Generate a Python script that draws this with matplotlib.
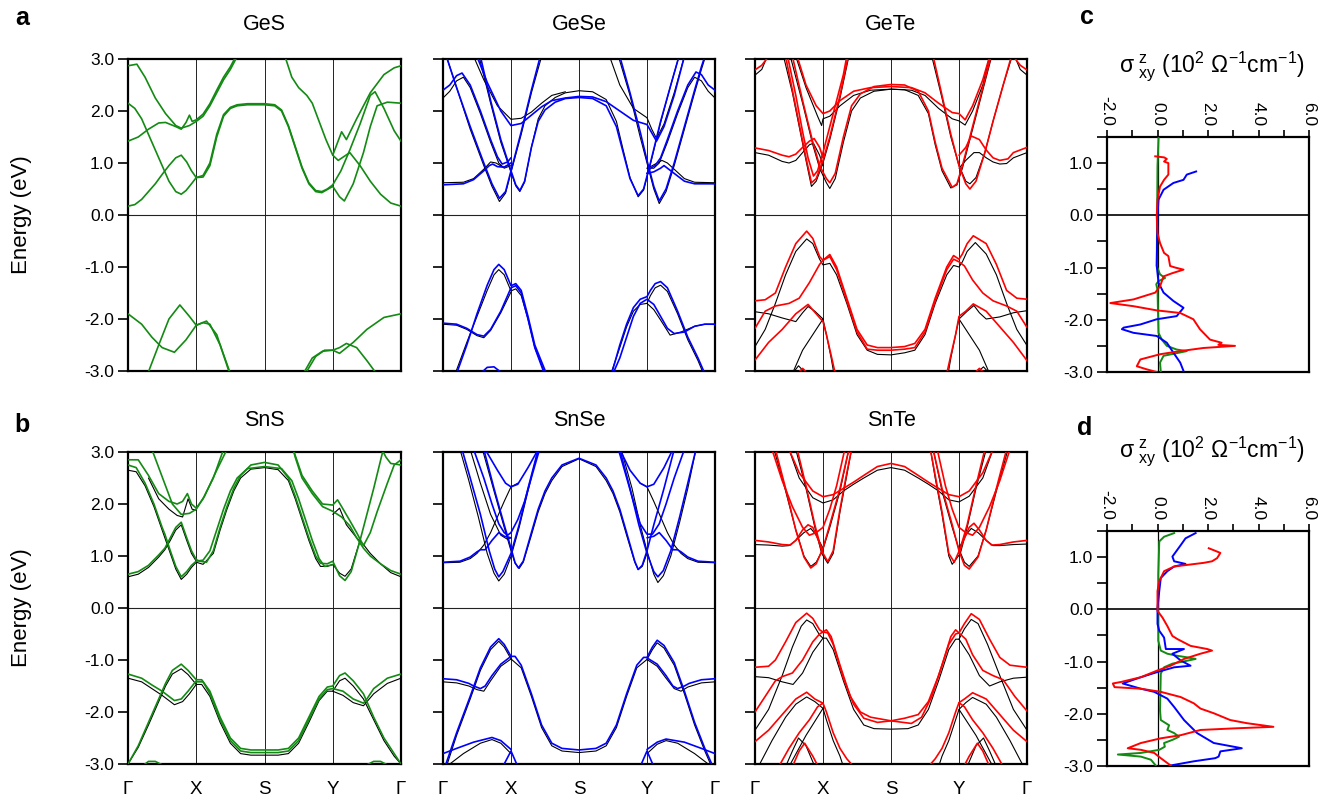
import matplotlib
matplotlib.use("Agg")
import matplotlib.pyplot as plt
from matplotlib.ticker import MultipleLocator

plt.rcParams['font.family'] = ['Liberation Sans', 'DejaVu Sans']
plt.rcParams['mathtext.default'] = 'regular'

# ---------------- k-path -----------------
KPOS = [0, 1, 2, 3, 4]
KLABELS = ['Γ', 'X', 'S', 'Y', 'Γ']
ETICKS = [-3.0, -2.0, -1.0, 0.0, 1.0, 2.0, 3.0]

GREEN = '#138a13'
BLUE = '#0000ff'
RED = '#ff0000'

# ---------------- GeS (green) ----------------
GES_SOC = [
    [(0,0.17),(0.1,0.2),(0.2,0.3),(0.3,0.45),(0.4,0.6),(0.5,0.78),(0.6,0.95),(0.7,1.1),(0.78,1.15),(0.86,1.02),(0.93,0.85),(1.0,0.72),(1.1,0.73),(1.2,0.95),(1.3,1.5),(1.4,1.9),(1.5,2.05),(1.6,2.1),(1.75,2.12),(2.0,2.12),(2.15,2.1),(2.25,2.0),(2.35,1.7),(2.45,1.3),(2.55,0.9),(2.65,0.6),(2.75,0.45),(2.84,0.43),(3.0,0.55),(3.1,0.35),(3.17,0.27),(3.3,0.6),(3.45,1.2),(3.55,1.7),(3.65,2.1),(3.8,2.17),(4.0,2.15)],
    [(0,2.15),(0.1,2.05),(0.2,1.85),(0.3,1.55),(0.4,1.25),(0.5,0.95),(0.6,0.65),(0.7,0.45),(0.78,0.40),(0.85,0.47),(0.93,0.6),(1.0,0.72),(1.1,0.76),(1.2,1.0),(1.3,1.55),(1.4,1.93),(1.5,2.07),(1.6,2.12),(1.75,2.14),(2.0,2.14),(2.15,2.12),(2.25,2.02),(2.35,1.72),(2.45,1.32),(2.55,0.92),(2.65,0.62),(2.75,0.47),(2.84,0.45),(2.92,0.5),(3.0,0.58),(3.12,0.85),(3.25,1.25),(3.4,1.75),(3.55,2.3),(3.62,2.37),(3.75,2.05),(3.9,1.62),(4.0,1.42)],
    [(0,2.87),(0.13,2.9),(0.25,2.65),(0.4,2.25),(0.55,1.95),(0.7,1.72),(0.78,1.67),(0.9,1.72),(1.0,1.8),(1.1,1.9),(1.2,2.1),(1.3,2.35),(1.4,2.6),(1.5,2.8),(1.6,3.05)],
    [(0,1.42),(0.15,1.5),(0.3,1.65),(0.45,1.77),(0.55,1.78),(0.7,1.7),(0.78,1.65),(0.85,1.78),(0.9,1.92),(0.94,1.8),(1.0,1.83),(1.1,1.94),(1.2,2.14),(1.3,2.4),(1.4,2.65),(1.5,2.85),(1.58,3.05)],
    [(2.3,3.05),(2.4,2.65),(2.5,2.45),(2.62,2.3),(2.7,2.15),(2.8,1.8),(2.9,1.45),(3.0,1.15),(3.08,1.05),(3.25,1.2),(3.4,0.95),(3.55,0.65),(3.7,0.4),(3.85,0.23),(4.0,0.17)],
    [(3.0,1.15),(3.13,1.6),(3.2,1.45),(3.35,1.85),(3.55,2.35),(3.75,2.7),(3.9,2.83),(4.0,2.87)],
    [(0,-1.9),(0.2,-2.1),(0.35,-2.35),(0.5,-2.55),(0.68,-2.64),(0.85,-2.4),(1.0,-2.12),(1.15,-2.04),(1.3,-2.3),(1.49,-3.05)],
    [(0.29,-3.05),(0.45,-2.5),(0.6,-2.0),(0.76,-1.73),(0.9,-1.95),(1.0,-2.12),(1.1,-2.07),(1.2,-2.1),(1.35,-2.5),(1.5,-3.05)],
    [(2.57,-3.05),(2.7,-2.75),(2.85,-2.62),(3.0,-2.6),(3.1,-2.55),(3.2,-2.47),(3.35,-2.55),(3.5,-2.8),(3.64,-3.05)],
    [(2.6,-3.05),(2.75,-2.72),(2.88,-2.6),(3.0,-2.6),(3.1,-2.66),(3.3,-2.45),(3.5,-2.2),(3.75,-1.97),(4.0,-1.9)],
]
GES_NOSOC = []

# ---------------- GeSe ----------------
GESE_SOC = [
    [(0.05,3.05),(0.2,2.45),(0.4,1.7),(0.6,1.0),(0.72,0.6),(0.83,0.32),(0.92,0.45),(1.0,0.85),(1.15,1.6),(1.3,2.4),(1.43,3.05)],
    [(0.55,3.05),(0.7,2.2),(0.85,1.45),(1.0,0.85),(1.07,0.58),(1.13,0.47),(1.2,0.65),(1.3,1.3),(1.4,1.8),(1.5,2.02),(1.65,2.17),(1.8,2.24),(2.0,2.26),(2.2,2.24),(2.4,2.1),(2.55,1.7),(2.65,1.2),(2.75,0.7),(2.87,0.37),(2.95,0.5),(3.05,1.0),(3.2,1.8),(3.35,2.5),(3.47,3.05)],
    [(0,0.58),(0.3,0.6),(0.45,0.68),(0.6,0.85),(0.68,0.95),(0.73,0.98),(0.8,0.93),(0.9,0.92),(1.0,1.0)],
    [(0,2.4),(0.1,2.5),(0.2,2.68),(0.28,2.73),(0.4,2.5),(0.55,2.0),(0.7,1.45),(0.8,1.12),(0.87,0.98),(0.95,1.02),(1.0,1.1)],
    [(0.5,3.05),(0.65,2.55),(0.85,2.0),(1.0,1.72),(1.15,1.76),(1.3,1.92),(1.45,2.08),(1.6,2.2),(1.8,2.25),(2.0,2.28),(2.2,2.27),(2.4,2.18),(2.6,2.0),(2.8,1.82),(3.0,1.74),(3.07,1.58),(3.14,1.42),(3.25,1.7),(3.4,2.3),(3.55,3.05)],
    [(2.6,3.05),(2.75,2.35),(2.9,1.6),(3.0,1.05),(3.1,0.55),(3.18,0.27),(3.28,0.5),(3.4,1.0),(3.55,1.7),(3.7,2.4),(3.8,2.85),(3.85,3.05)],
    [(4.0,0.6),(3.7,0.6),(3.55,0.65),(3.4,0.8),(3.3,0.9),(3.25,0.95),(3.2,0.9),(3.1,0.83),(3.0,0.8)],
    [(4.0,2.4),(3.9,2.5),(3.8,2.7),(3.72,2.75),(3.6,2.5),(3.45,2.0),(3.3,1.45),(3.2,1.1),(3.12,0.95),(3.05,0.9),(3.0,0.8)],
    [(0.2,-3.05),(0.35,-2.5),(0.5,-1.9),(0.65,-1.35),(0.75,-1.05),(0.82,-0.95),(0.9,-1.05),(1.0,-1.36),(1.07,-1.32),(1.15,-1.45),(1.25,-1.95),(1.35,-2.5),(1.52,-3.05)],
    [(0,-2.08),(0.2,-2.1),(0.35,-2.18),(0.5,-2.3),(0.6,-2.33),(0.7,-2.2),(0.85,-1.85),(1.0,-1.4),(1.07,-1.36),(1.15,-1.5),(1.25,-2.0),(1.35,-2.55),(1.49,-3.05)],
    [(0.55,-3.05),(0.65,-2.93),(0.75,-2.92),(0.88,-3.05)],
    [(2.48,-3.05),(2.6,-2.5),(2.7,-2.1),(2.8,-1.78),(2.9,-1.62),(3.0,-1.57),(3.05,-1.45),(3.12,-1.32),(3.2,-1.28),(3.3,-1.4),(3.45,-1.85),(3.6,-2.35),(3.75,-2.75),(3.85,-3.05)],
    [(2.5,-3.05),(2.6,-2.75),(2.7,-2.35),(2.8,-1.95),(2.9,-1.7),(3.0,-1.62),(3.1,-1.72),(3.2,-1.95),(3.3,-2.18),(3.4,-2.28),(3.55,-2.25),(3.7,-2.14),(3.85,-2.1),(4.0,-2.1)],
]
GESE_NOSOC = [
    [(0.05,3.05),(0.2,2.45),(0.4,1.65),(0.6,0.95),(0.72,0.55),(0.83,0.26),(0.92,0.42),(1.0,0.82),(1.15,1.55),(1.3,2.35),(1.45,3.05)],
    [(0.53,3.05),(0.7,2.15),(0.85,1.4),(1.0,0.82),(1.07,0.56),(1.13,0.45),(1.2,0.63),(1.3,1.3),(1.4,1.85),(1.5,2.1),(1.65,2.26),(1.8,2.35),(2.0,2.39),(2.2,2.37),(2.4,2.22),(2.55,1.8),(2.65,1.25),(2.75,0.72),(2.87,0.35),(2.95,0.48),(3.05,0.98),(3.2,1.78),(3.35,2.5),(3.47,3.05)],
    [(0,0.62),(0.3,0.63),(0.45,0.7),(0.6,0.88),(0.7,1.02),(0.78,1.0),(0.88,0.92),(0.95,0.95),(1.0,1.0)],
    [(0,2.25),(0.1,2.38),(0.2,2.58),(0.3,2.65),(0.4,2.45),(0.55,1.95),(0.7,1.4),(0.82,1.0),(0.9,0.9),(1.0,0.95)],
    [(0.45,3.05),(0.6,2.6),(0.8,2.1),(1.0,1.84),(1.15,1.86),(1.3,1.98),(1.45,2.15),(1.6,2.3),(1.8,2.37)],
    [(2.45,3.05),(2.6,2.5),(2.8,2.05),(3.0,1.87),(3.07,1.65),(3.14,1.47),(3.25,1.75),(3.4,2.35),(3.55,3.05)],
    [(2.58,3.05),(2.75,2.3),(2.9,1.5),(3.0,1.0),(3.1,0.5),(3.18,0.22),(3.28,0.45),(3.4,0.95),(3.55,1.65),(3.7,2.35),(3.8,2.8),(3.86,3.05)],
    [(4.0,0.62),(3.7,0.63),(3.55,0.7),(3.4,0.88),(3.3,1.0),(3.22,1.05),(3.15,1.0),(3.05,0.93),(3.0,0.9)],
    [(4.0,2.25),(3.9,2.38),(3.8,2.58),(3.7,2.65),(3.6,2.45),(3.45,1.95),(3.3,1.4),(3.18,1.0),(3.1,0.9),(3.0,0.9)],
    [(0.18,-3.05),(0.35,-2.45),(0.5,-1.95),(0.65,-1.45),(0.75,-1.15),(0.82,-1.05),(0.9,-1.15),(1.0,-1.46),(1.07,-1.42),(1.15,-1.55),(1.25,-2.0),(1.35,-2.55),(1.5,-3.05)],
    [(0,-2.1),(0.2,-2.12),(0.35,-2.2),(0.5,-2.32),(0.6,-2.36),(0.7,-2.22),(0.85,-1.88),(1.0,-1.48)],
    [(2.47,-3.05),(2.6,-2.55),(2.7,-2.15),(2.8,-1.85),(2.9,-1.72),(3.0,-1.7),(3.05,-1.55),(3.12,-1.4),(3.2,-1.35),(3.3,-1.47),(3.45,-1.9),(3.6,-2.4),(3.75,-2.8),(3.83,-3.05)],
    [(3.0,-1.7),(3.1,-1.82),(3.2,-2.02),(3.34,-2.31),(3.5,-2.25),(3.7,-2.14),(3.85,-2.1),(4.0,-2.1)],
]

# ---------------- GeTe ----------------
GETE_SOC = [
    [(0,1.29),(0.2,1.24),(0.4,1.15),(0.5,1.12),(0.6,1.17),(0.7,1.3),(0.8,1.42),(0.87,1.47),(0.95,1.3),(1.0,1.1)],
    [(0.45,3.05),(0.55,2.4),(0.65,1.75),(0.75,1.1),(0.83,0.62),(0.9,0.7),(1.0,1.05),(1.1,1.5),(1.25,2.3),(1.37,3.05)],
    [(0.48,3.05),(0.6,2.3),(0.7,1.6),(0.78,1.1),(0.86,0.75),(0.92,0.85),(1.0,1.2),(1.1,1.7),(1.2,2.2),(1.3,2.7),(1.35,3.05)],
    [(0.55,3.05),(0.7,2.2),(0.85,1.4),(0.95,0.95),(1.05,0.7),(1.1,0.62),(1.18,0.8),(1.3,1.5),(1.42,2.1),(1.55,2.33),(1.75,2.47),(2.0,2.51),(2.2,2.5),(2.4,2.38),(2.55,2.0),(2.65,1.4),(2.75,0.9),(2.9,0.53),(2.97,0.6),(3.05,0.95),(3.2,1.7),(3.35,2.45),(3.47,3.05)],
    [(0.62,3.05),(0.75,2.5),(0.9,2.1),(1.0,1.95),(1.1,2.0),(1.25,2.2),(1.45,2.38),(1.7,2.45),(2.0,2.47),(2.3,2.45),(2.5,2.35),(2.7,2.15),(2.9,1.97),(3.0,1.95),(3.09,1.83),(3.2,2.1),(3.35,2.6),(3.45,3.05)],
    [(0,2.79),(0.1,2.88),(0.2,3.05)],
    [(4.0,2.79),(3.9,2.88),(3.8,3.05)],
    [(2.62,3.05),(2.75,2.3),(2.88,1.55),(3.0,0.95),(3.1,0.6),(3.16,0.5),(3.25,0.65),(3.38,1.2),(3.5,1.8),(3.65,2.5),(3.77,3.05)],
    [(4.0,1.3),(3.8,1.2),(3.72,1.08),(3.6,1.05),(3.5,1.1),(3.4,1.25),(3.3,1.45),(3.18,1.52),(3.1,1.3),(3.0,1.15)],
    [(0,-1.65),(0.15,-1.63),(0.3,-1.5),(0.45,-1.0),(0.6,-0.55),(0.76,-0.31),(0.85,-0.45),(0.95,-0.8),(1.0,-0.87),(1.1,-0.76),(1.2,-1.0),(1.35,-1.6),(1.5,-2.2),(1.65,-2.5),(1.8,-2.55),(2.0,-2.55),(2.2,-2.53),(2.35,-2.47),(2.5,-2.2),(2.65,-1.6),(2.82,-1.0),(2.92,-0.78),(3.0,-0.85),(3.05,-0.75),(3.12,-0.55),(3.21,-0.4),(3.4,-0.55),(3.55,-0.95),(3.7,-1.45),(3.85,-1.6),(4.0,-1.62)],
    [(0,-2.18),(0.15,-1.85),(0.3,-1.75),(0.5,-1.7),(0.65,-1.6),(0.8,-1.3),(0.95,-0.95),(1.0,-0.87),(1.1,-0.8),(1.2,-1.05),(1.35,-1.65),(1.5,-2.25),(1.65,-2.58),(1.8,-2.6),(2.0,-2.6),(2.2,-2.58),(2.35,-2.55),(2.5,-2.25),(2.65,-1.65),(2.82,-1.05),(2.92,-0.85),(3.0,-0.9),(3.08,-0.98),(3.2,-1.25),(3.35,-1.5),(3.5,-1.65),(3.7,-1.75),(3.85,-1.85),(4.0,-2.16)],
    [(0,-2.79),(0.2,-2.45),(0.4,-2.2),(0.6,-1.9),(0.78,-1.72),(0.9,-1.9),(1.0,-2.05),(1.05,-2.3),(1.12,-2.7),(1.18,-3.05)],
    [(4.0,-2.8),(3.8,-2.45),(3.6,-2.15),(3.4,-1.85),(3.21,-1.71),(3.1,-1.85),(3.0,-1.95),(2.95,-2.3),(2.88,-2.7),(2.82,-3.05)],
    [(0.62,-3.05),(0.7,-2.95),(0.78,-3.05)],
    [(3.22,-3.05),(3.3,-2.95),(3.38,-3.05)],
]
GETE_NOSOC = [
    [(0,1.2),(0.2,1.15),(0.4,1.03),(0.5,1.0),(0.6,1.05),(0.7,1.2),(0.8,1.35),(0.86,1.38),(0.95,1.15),(1.0,0.95)],
    [(0.42,3.05),(0.55,2.35),(0.65,1.7),(0.75,1.05),(0.83,0.55),(0.9,0.65),(1.0,1.0),(1.1,1.45),(1.25,2.25),(1.38,3.05)],
    [(0.52,3.05),(0.7,2.15),(0.85,1.35),(0.95,0.9),(1.05,0.62),(1.1,0.51),(1.18,0.7),(1.3,1.4),(1.42,2.0),(1.55,2.25),(1.75,2.38),(2.0,2.42),(2.2,2.41),(2.4,2.3),(2.55,1.95),(2.65,1.35),(2.75,0.85),(2.88,0.52),(2.97,0.58),(3.05,0.9),(3.2,1.65),(3.35,2.4),(3.48,3.05)],
    [(0.6,3.05),(0.75,2.45),(0.92,1.9),(0.98,1.72),(1.0,1.85),(1.1,1.9),(1.25,2.1),(1.45,2.3),(1.7,2.4),(2.0,2.42),(2.3,2.4),(2.5,2.3),(2.7,2.05),(2.9,1.85),(3.0,1.81),(3.09,1.73),(3.2,2.0),(3.35,2.5),(3.45,3.05)],
    [(0,2.69),(0.1,2.8),(0.18,3.05)],
    [(4.0,2.69),(3.9,2.8),(3.82,3.05)],
    [(2.6,3.05),(2.75,2.25),(2.88,1.5),(3.0,0.95),(3.1,0.65),(3.16,0.6),(3.25,0.72),(3.38,1.2),(3.5,1.8),(3.65,2.5),(3.78,3.05)],
    [(4.0,1.2),(3.8,1.1),(3.7,0.99),(3.6,0.98),(3.5,1.02),(3.4,1.1),(3.3,1.2),(3.22,1.2),(3.1,1.05),(3.0,0.9)],
    [(0,-2.53),(0.15,-2.2),(0.3,-1.7),(0.45,-1.15),(0.6,-0.7),(0.76,-0.46),(0.85,-0.55),(0.95,-0.85),(1.0,-0.96),(1.1,-0.93),(1.2,-1.15),(1.35,-1.7),(1.5,-2.3),(1.65,-2.6),(1.8,-2.68),(2.0,-2.69),(2.2,-2.65),(2.35,-2.6),(2.5,-2.3),(2.65,-1.7),(2.82,-1.15),(2.92,-0.97),(3.0,-1.0),(3.05,-0.9),(3.12,-0.7),(3.24,-0.53),(3.4,-0.75),(3.55,-1.15),(3.7,-1.7),(3.85,-2.2),(4.0,-2.51)],
    [(0,-1.86),(0.2,-1.9),(0.4,-1.98),(0.6,-2.05),(0.7,-1.88),(0.78,-1.76),(0.88,-1.85),(1.0,-2.0),(1.05,-2.3),(1.12,-2.75),(1.16,-3.05)],
    [(0.55,-3.05),(0.7,-2.6),(0.85,-2.3),(1.0,-2.0)],
    [(4.0,-1.84),(3.8,-1.88),(3.6,-1.96),(3.4,-2.0),(3.3,-1.88),(3.22,-1.74),(3.12,-1.85),(3.0,-2.0),(2.95,-2.3),(2.88,-2.75),(2.84,-3.05)],
    [(3.0,-2.0),(3.15,-2.3),(3.3,-2.6),(3.45,-3.05)],
    [(0.55,-3.05),(0.64,-2.9),(0.75,-3.05)],
    [(3.25,-3.05),(3.36,-2.92),(3.45,-3.05)],
]

# ---------------- SnS ----------------
SNS_SOC = [
    [(0,0.65),(0.15,0.7),(0.3,0.82),(0.45,1.02),(0.54,1.15),(0.62,1.35),(0.7,1.55),(0.78,1.65),(0.86,1.35),(0.93,1.1),(1.0,0.93),(1.05,0.9),(1.15,0.88),(1.25,1.1),(1.35,1.55),(1.45,1.95),(1.55,2.3),(1.65,2.55),(1.8,2.75),(2.0,2.8),(2.2,2.75),(2.35,2.5),(2.45,2.15),(2.55,1.75),(2.65,1.35),(2.75,1.0),(2.82,0.86),(2.92,0.85),(3.0,0.9),(3.1,0.62),(3.18,0.53),(3.27,0.7),(3.4,1.3),(3.5,1.8),(3.6,2.3),(3.74,3.05)],
    [(0,2.75),(0.12,2.7),(0.25,2.4),(0.38,2.0),(0.5,1.55),(0.54,1.42),(0.62,1.1),(0.7,0.8),(0.78,0.6),(0.86,0.7),(0.93,0.82),(1.0,0.9),(1.1,0.92),(1.2,1.1),(1.3,1.5),(1.4,1.9),(1.5,2.25),(1.6,2.5),(1.75,2.68),(2.0,2.72),(2.25,2.68),(2.4,2.45),(2.5,2.1),(2.6,1.7),(2.7,1.3),(2.8,0.95),(2.88,0.8),(3.0,0.83)],
    [(0,2.85),(0.15,2.85),(0.3,2.55),(0.45,2.2),(0.6,2.05),(0.72,2.0),(0.8,2.05),(0.87,2.2),(0.93,2.0),(1.0,1.92),(1.1,2.1),(1.25,2.5),(1.4,3.05)],
    [(0.35,3.05),(0.45,2.7),(0.55,2.35),(0.65,2.0),(0.78,1.8),(0.9,1.82),(1.0,1.9),(1.12,2.15),(1.3,2.65),(1.45,3.05)],
    [(2.42,3.05),(2.55,2.55),(2.7,2.25),(2.85,2.0),(3.0,1.98),(3.07,2.08),(3.13,1.95),(3.25,1.68),(3.35,1.45),(3.45,1.2),(3.55,1.45),(3.65,1.85),(3.8,2.4),(3.9,2.75),(4.0,2.85)],
    [(4.0,0.65),(3.85,0.72),(3.7,0.85),(3.55,1.0),(3.45,1.15),(3.35,1.35),(3.25,1.58),(3.13,1.75),(3.0,1.86),(2.85,1.95),(2.7,2.2),(2.55,2.5),(2.45,2.9),(2.42,3.05)],
    [(4.0,2.75),(3.85,2.78),(3.78,2.9),(3.72,3.05)],
    [(0,-1.27),(0.2,-1.35),(0.35,-1.48),(0.5,-1.6),(0.58,-1.68),(0.68,-1.78),(0.78,-1.75),(0.88,-1.6),(1.0,-1.4)],
    [(0,-3.0),(0.15,-2.65),(0.3,-2.2),(0.45,-1.75),(0.55,-1.45),(0.65,-1.2),(0.78,-1.08),(0.88,-1.2),(1.0,-1.38),(1.08,-1.38),(1.2,-1.6),(1.35,-2.1),(1.5,-2.5),(1.65,-2.7),(1.8,-2.73),(2.0,-2.73),(2.2,-2.73),(2.35,-2.7),(2.5,-2.5),(2.65,-2.1),(2.8,-1.7),(2.92,-1.52),(3.0,-1.5),(3.1,-1.3),(3.18,-1.25),(3.3,-1.4),(3.45,-1.65),(3.6,-2.1),(3.75,-2.5),(3.9,-2.8),(4.0,-3.0)],
    [(1.0,-1.42),(1.1,-1.42),(1.2,-1.65),(1.35,-2.15),(1.5,-2.55),(1.65,-2.75),(1.8,-2.78),(2.2,-2.78),(2.35,-2.75),(2.5,-2.55),(2.65,-2.15),(2.8,-1.75),(2.92,-1.57),(3.0,-1.55)],
    [(3.0,-1.55),(3.15,-1.6),(3.3,-1.75),(3.45,-1.83),(3.5,-1.75),(3.6,-1.55),(3.8,-1.35),(4.0,-1.27)],
    [(0.2,-3.05),(0.3,-2.95),(0.4,-2.95),(0.55,-3.05)],
    [(3.45,-3.05),(3.6,-2.95),(3.7,-2.95),(3.85,-3.05)],
]
SNS_NOSOC = [
    [(0,0.6),(0.15,0.65),(0.3,0.78),(0.45,0.98),(0.54,1.12),(0.62,1.3),(0.7,1.5),(0.78,1.6),(0.86,1.3),(0.93,1.05),(1.0,0.9)],
    [(0,2.65),(0.12,2.62),(0.25,2.35),(0.38,1.95),(0.5,1.5),(0.62,1.05),(0.7,0.75),(0.78,0.55),(0.86,0.65),(0.93,0.78),(1.0,0.88)],
    [(1.0,0.88),(1.1,0.84),(1.25,1.05),(1.35,1.5),(1.45,1.9),(1.55,2.25),(1.65,2.5),(1.8,2.67),(2.0,2.7),(2.2,2.66),(2.35,2.45),(2.45,2.1),(2.55,1.7),(2.65,1.3),(2.75,0.95),(2.82,0.8),(2.92,0.8),(3.0,0.84),(3.1,0.67),(3.18,0.61),(3.27,0.75),(3.4,1.3)],
    [(0.3,2.5),(0.45,2.1),(0.6,1.9),(0.72,1.78),(0.8,1.75),(0.88,2.1),(0.94,1.9),(1.0,1.88)],
    [(3.0,1.8),(3.1,1.92),(3.2,1.6),(3.35,1.35),(3.45,1.22),(3.55,1.05),(3.7,0.85),(3.85,0.68),(4.0,0.6)],
    [(0,-1.35),(0.2,-1.42),(0.35,-1.55),(0.5,-1.68),(0.68,-1.86),(0.8,-1.8),(0.9,-1.65),(1.0,-1.47)],
    [(0,-3.0),(0.15,-2.68),(0.3,-2.25),(0.45,-1.8),(0.55,-1.5),(0.65,-1.27),(0.78,-1.17),(0.88,-1.28),(1.0,-1.47),(1.08,-1.47),(1.2,-1.7),(1.35,-2.2),(1.5,-2.6),(1.65,-2.8),(1.8,-2.83),(2.2,-2.83),(2.35,-2.8),(2.5,-2.6),(2.65,-2.2),(2.8,-1.78),(2.92,-1.6),(3.0,-1.6),(3.1,-1.4),(3.18,-1.35),(3.3,-1.5),(3.45,-1.75),(3.6,-2.15),(3.75,-2.55),(3.9,-2.85),(4.0,-3.0)],
    [(3.0,-1.6),(3.15,-1.68),(3.3,-1.82),(3.45,-1.88),(3.6,-1.65),(3.8,-1.45),(4.0,-1.35)],
]

# ---------------- SnSe ----------------
SNSE_SOC = [
    [(0.28,3.05),(0.4,2.5),(0.55,1.8),(0.68,1.1),(0.76,0.75),(0.82,0.6),(0.88,0.7),(1.0,1.05),(1.12,1.6),(1.25,2.3),(1.4,3.05)],
    [(0.6,3.05),(0.75,2.3),(0.9,1.6),(1.0,1.15),(1.06,0.87),(1.11,0.77),(1.18,0.9),(1.3,1.45),(1.4,1.9),(1.5,2.25),(1.6,2.5),(1.75,2.75),(2.0,2.88),(2.25,2.75),(2.4,2.5),(2.5,2.25),(2.6,1.9),(2.7,1.45),(2.82,0.9),(2.87,0.74),(2.93,0.82),(3.0,1.1),(3.1,1.6),(3.25,2.3),(3.4,3.05)],
    [(0,0.88),(0.25,0.9),(0.4,0.98),(0.5,1.08),(0.55,1.12),(0.62,1.12),(0.72,1.3),(0.82,1.45),(0.9,1.38),(1.0,1.35)],
    [(0.45,3.05),(0.6,2.5),(0.72,2.0),(0.82,1.62),(0.9,1.45),(0.95,1.4),(1.0,1.45),(1.1,1.7),(1.2,2.05),(1.32,2.6),(1.42,3.05)],
    [(0.62,3.05),(0.8,2.65),(0.92,2.4),(1.0,2.33),(1.1,2.38),(1.25,2.7),(1.4,3.05)],
    [(2.6,3.05),(2.75,2.65),(2.9,2.4),(3.0,2.33),(3.1,2.38),(3.25,2.7),(3.38,3.05)],
    [(2.58,3.05),(2.68,2.6),(2.8,2.05),(2.9,1.62),(3.0,1.42),(3.08,1.42),(3.18,1.62),(3.28,2.0),(3.4,2.5),(3.55,3.05)],
    [(2.6,3.05),(2.75,2.3),(2.88,1.6),(3.0,1.05),(3.1,0.7),(3.16,0.6),(3.24,0.72),(3.35,1.1),(3.48,1.75),(3.6,2.4),(3.72,3.05)],
    [(4.0,0.88),(3.75,0.9),(3.6,0.98),(3.5,1.08),(3.45,1.12),(3.38,1.12),(3.28,1.3),(3.18,1.45),(3.1,1.38),(3.0,1.35)],
    [(0,-1.36),(0.2,-1.38),(0.38,-1.45),(0.45,-1.5),(0.55,-1.55),(0.62,-1.5),(0.72,-1.3),(0.85,-1.08),(1.0,-0.93)],
    [(0.03,-3.05),(0.2,-2.4),(0.4,-1.7),(0.55,-1.15),(0.7,-0.75),(0.82,-0.59),(0.9,-0.7),(1.0,-0.93),(1.06,-0.93),(1.15,-1.1),(1.3,-1.65),(1.45,-2.25),(1.6,-2.6),(1.75,-2.7),(2.0,-2.73),(2.25,-2.7),(2.4,-2.6),(2.55,-2.25),(2.7,-1.65),(2.85,-1.1),(2.95,-0.95),(3.0,-0.95),(3.08,-0.75),(3.15,-0.62),(3.25,-0.72),(3.4,-1.05),(3.55,-1.6),(3.7,-2.2),(3.85,-2.7),(3.97,-3.05)],
    [(0,-2.8),(0.2,-2.7),(0.45,-2.58),(0.72,-2.49),(0.85,-2.55),(1.0,-2.72)],
    [(0.88,-3.05),(1.0,-2.75),(1.1,-3.05)],
    [(4.0,-1.36),(3.8,-1.38),(3.62,-1.45),(3.55,-1.5),(3.45,-1.55),(3.38,-1.5),(3.28,-1.3),(3.15,-1.08),(3.0,-0.96)],
    [(4.0,-2.8),(3.8,-2.7),(3.55,-2.58),(3.28,-2.52),(3.15,-2.58),(3.0,-2.72)],
    [(2.9,-3.05),(3.0,-2.75),(3.1,-3.05)],
]
SNSE_NOSOC = [
    [(0.25,3.05),(0.38,2.45),(0.52,1.75),(0.65,1.05),(0.75,0.67),(0.82,0.52),(0.9,0.65),(1.0,0.99),(1.12,1.55),(1.25,2.25),(1.4,3.05)],
    [(0.58,3.05),(0.75,2.25),(0.9,1.55),(1.0,1.1),(1.06,0.86),(1.12,0.76),(1.18,0.88),(1.3,1.4),(1.4,1.85),(1.5,2.2),(1.6,2.45),(1.75,2.72),(2.0,2.87),(2.25,2.72),(2.4,2.45),(2.5,2.2),(2.6,1.85),(2.7,1.4),(2.82,0.88),(2.87,0.74),(2.93,0.8),(3.0,1.05)],
    [(0,0.87),(0.25,0.88),(0.4,0.95),(0.5,1.05),(0.6,1.21),(0.7,1.45),(0.8,1.75),(0.9,2.05),(1.0,2.33),(1.1,2.4)],
    [(0.4,3.05),(0.55,2.4),(0.7,1.8),(0.85,1.4),(0.95,1.32),(1.0,1.35)],
    [(4.0,0.87),(3.75,0.88),(3.6,0.95),(3.5,1.05),(3.4,1.21),(3.3,1.45),(3.2,1.75),(3.1,2.05),(3.0,2.33),(2.9,2.4)],
    [(2.62,3.05),(2.78,2.3),(2.9,1.6),(3.0,1.1),(3.1,0.65),(3.16,0.49),(3.24,0.62),(3.35,1.0),(3.48,1.65),(3.6,2.3),(3.72,3.05)],
    [(0,-1.42),(0.2,-1.44),(0.38,-1.5),(0.5,-1.57),(0.6,-1.6),(0.7,-1.4),(0.85,-1.12),(1.0,-0.98)],
    [(0.05,-3.05),(0.2,-2.45),(0.4,-1.75),(0.55,-1.2),(0.7,-0.8),(0.82,-0.64),(0.9,-0.75),(1.0,-0.98),(1.15,-1.15),(1.3,-1.7),(1.45,-2.3),(1.6,-2.65),(1.75,-2.75),(2.0,-2.78),(2.25,-2.75),(2.4,-2.65),(2.55,-2.3),(2.7,-1.7),(2.85,-1.15),(3.0,-0.99),(3.08,-0.8),(3.15,-0.67),(3.25,-0.77),(3.4,-1.1),(3.55,-1.65),(3.7,-2.25),(3.85,-2.75),(3.95,-3.05)],
    [(0.05,-3.05),(0.3,-2.8),(0.55,-2.6),(0.72,-2.53),(0.85,-2.6),(1.0,-2.8)],
    [(4.0,-1.42),(3.8,-1.44),(3.6,-1.52),(3.5,-1.6),(3.4,-1.55),(3.28,-1.35),(3.15,-1.12),(3.0,-0.99)],
    [(3.95,-3.05),(3.7,-2.8),(3.45,-2.6),(3.28,-2.55),(3.15,-2.62),(3.0,-2.8)],
]

# ---------------- SnTe ----------------
SNTE_SOC = [
    [(0,1.3),(0.2,1.27),(0.4,1.22),(0.52,1.21),(0.6,1.3),(0.7,1.5),(0.78,1.6),(0.85,1.55),(0.95,1.25),(1.0,1.05)],
    [(0.3,3.05),(0.45,2.3),(0.6,1.5),(0.72,0.98),(0.82,0.77),(0.9,0.85),(1.0,1.15),(1.1,1.6),(1.25,2.3),(1.38,3.05)],
    [(0.62,3.05),(0.75,2.35),(0.88,1.6),(0.98,1.1),(1.07,0.89),(1.15,1.1),(1.25,1.9),(1.35,2.6),(1.42,3.05)],
    [(0.25,3.05),(0.4,2.45),(0.55,1.95),(0.7,1.55),(0.8,1.4),(0.9,1.45),(1.0,1.55),(1.1,1.9),(1.2,2.35),(1.32,3.05)],
    [(0.5,3.05),(0.65,2.6),(0.85,2.25),(1.0,2.14),(1.15,2.18),(1.3,2.3),(1.45,2.42),(1.6,2.55),(1.8,2.72),(2.0,2.78),(2.2,2.72),(2.4,2.55),(2.55,2.42),(2.7,2.3),(2.85,2.18),(3.0,2.14),(3.15,2.25),(3.35,2.6),(3.5,3.05)],
    [(4.0,1.3),(3.8,1.27),(3.6,1.22),(3.48,1.21),(3.4,1.3),(3.3,1.5),(3.22,1.63),(3.15,1.55),(3.05,1.25),(3.0,1.05)],
    [(3.7,3.05),(3.55,2.3),(3.4,1.5),(3.28,0.98),(3.15,0.75),(3.08,0.82),(3.0,1.1),(2.9,1.6),(2.75,2.3),(2.62,3.05)],
    [(3.38,3.05),(3.25,2.35),(3.12,1.6),(3.02,1.15),(2.93,0.88),(2.85,1.05),(2.75,1.85),(2.65,2.55),(2.58,3.05)],
    [(3.75,3.05),(3.6,2.45),(3.45,1.95),(3.3,1.55),(3.2,1.4),(3.1,1.45),(3.0,1.55),(2.9,1.9),(2.8,2.35),(2.68,3.05)],
    [(0,-1.14),(0.2,-1.12),(0.3,-1.0),(0.45,-0.65),(0.6,-0.28),(0.76,-0.1),(0.85,-0.2),(0.95,-0.42),(1.0,-0.46),(1.05,-0.42),(1.12,-0.55),(1.25,-1.1),(1.4,-1.7),(1.55,-2.0),(1.7,-2.1),(2.0,-2.17),(2.3,-2.22),(2.45,-2.1),(2.6,-1.7),(2.75,-1.1),(2.88,-0.55),(2.95,-0.42),(3.0,-0.48),(3.08,-0.3),(3.18,-0.11),(3.3,-0.22),(3.45,-0.6),(3.6,-0.95),(3.75,-1.1),(4.0,-1.14)],
    [(0,-2.0),(0.15,-1.7),(0.3,-1.4),(0.4,-1.32),(0.55,-1.25),(0.7,-1.0),(0.85,-0.65),(0.95,-0.5),(1.0,-0.46),(1.07,-0.48),(1.15,-0.7),(1.3,-1.35),(1.45,-1.85),(1.6,-2.12),(1.8,-2.2),(2.0,-2.17),(2.2,-2.12),(2.4,-2.05),(2.55,-1.8),(2.7,-1.3),(2.85,-0.7),(2.95,-0.5),(3.0,-0.48),(3.1,-0.6),(3.2,-0.9),(3.35,-1.2),(3.5,-1.3),(3.65,-1.38),(3.82,-1.7),(4.0,-1.98)],
    [(0,-2.57),(0.2,-2.35),(0.4,-2.05),(0.6,-1.75),(0.76,-1.62),(0.88,-1.75),(1.0,-1.83),(1.05,-2.0),(1.15,-2.4),(1.25,-2.7),(1.35,-2.9),(1.45,-3.05)],
    [(0.35,-3.05),(0.5,-2.7),(0.65,-2.4),(0.8,-2.15),(0.92,-1.9),(1.0,-1.83)],
    [(0.55,-3.05),(0.65,-2.75),(0.73,-2.6),(0.85,-2.85),(0.93,-3.05)],
    [(4.0,-2.57),(3.8,-2.35),(3.6,-2.05),(3.4,-1.75),(3.2,-1.63),(3.08,-1.75),(3.0,-1.82),(2.95,-2.0),(2.85,-2.4),(2.75,-2.7),(2.65,-2.9),(2.55,-3.05)],
    [(3.65,-3.05),(3.5,-2.7),(3.35,-2.4),(3.2,-2.15),(3.08,-1.9),(3.0,-1.82)],
    [(3.45,-3.05),(3.35,-2.75),(3.27,-2.6),(3.15,-2.85),(3.07,-3.05)],
]
SNTE_NOSOC = [
    [(0,1.22),(0.2,1.21),(0.4,1.19),(0.5,1.2),(0.6,1.3),(0.72,1.45),(0.82,1.53),(0.9,1.4),(1.0,1.15)],
    [(0.28,3.05),(0.45,2.25),(0.6,1.5),(0.72,1.0),(0.82,0.8),(0.9,0.88),(1.0,1.13),(1.1,1.55),(1.25,2.25),(1.38,3.05)],
    [(0.6,3.05),(0.75,2.3),(0.88,1.55),(0.98,1.05),(1.07,0.86),(1.15,1.05),(1.25,1.85),(1.35,2.55),(1.42,3.05)],
    [(0.5,3.05),(0.65,2.5),(0.85,2.12),(1.0,2.02),(1.15,2.08),(1.3,2.25),(1.45,2.38),(1.6,2.5),(1.8,2.65),(2.0,2.7),(2.2,2.65),(2.4,2.5),(2.55,2.38),(2.7,2.25),(2.85,2.08),(3.0,2.04),(3.15,2.15),(3.35,2.5),(3.5,3.05)],
    [(4.0,1.23),(3.8,1.22),(3.6,1.2),(3.5,1.2),(3.4,1.3),(3.28,1.45),(3.18,1.53),(3.1,1.4),(3.0,1.15)],
    [(3.72,3.05),(3.55,2.25),(3.4,1.5),(3.28,1.0),(3.15,0.8),(3.08,0.88),(3.0,1.13),(2.9,1.55),(2.75,2.25),(2.62,3.05)],
    [(3.4,3.05),(3.25,2.3),(3.12,1.55),(3.02,1.05),(2.9,0.84),(2.85,1.0),(2.75,1.8),(2.65,2.5),(2.58,3.05)],
    [(0,-2.35),(0.2,-1.95),(0.4,-1.3),(0.55,-0.75),(0.68,-0.35),(0.76,-0.23),(0.85,-0.3),(0.95,-0.52),(1.0,-0.58),(1.05,-0.58),(1.15,-0.8),(1.3,-1.4),(1.45,-1.95),(1.6,-2.25),(1.75,-2.32),(2.0,-2.33),(2.25,-2.32),(2.4,-2.25),(2.55,-1.95),(2.7,-1.4),(2.85,-0.8),(2.95,-0.6),(3.0,-0.6),(3.08,-0.4),(3.18,-0.22),(3.28,-0.3),(3.42,-0.7),(3.6,-1.3),(3.8,-1.95),(4.0,-2.35)],
    [(0,-1.32),(0.2,-1.34),(0.4,-1.42),(0.56,-1.47),(0.7,-1.25),(0.85,-0.85),(1.0,-0.58)],
    [(4.0,-1.33),(3.8,-1.35),(3.6,-1.42),(3.45,-1.5),(3.3,-1.3),(3.15,-0.9),(3.0,-0.6)],
    [(0.05,-3.05),(0.25,-2.55),(0.45,-2.1),(0.6,-1.85),(0.76,-1.71),(0.88,-1.8),(1.0,-1.93),(1.05,-2.15),(1.15,-2.55),(1.25,-2.85),(1.3,-3.05)],
    [(3.95,-3.05),(3.75,-2.55),(3.55,-2.1),(3.4,-1.85),(3.2,-1.72),(3.1,-1.82),(3.0,-1.95),(2.95,-2.15),(2.85,-2.55),(2.75,-2.85),(2.7,-3.05)],
    [(0.45,-3.05),(0.55,-2.75),(0.64,-2.5),(0.75,-2.65),(0.88,-3.05)],
    [(3.55,-3.05),(3.45,-2.75),(3.36,-2.5),(3.25,-2.65),(3.12,-3.05)],
    [(0.5,-3.05),(0.75,-2.45),(1.0,-1.93)],
    [(3.5,-3.05),(3.25,-2.45),(3.0,-1.95)],
]

# ---------------- anomalous Hall conductivity panels (sigma, E) ----------------
SIG_C_RED = [(-0.09,1.13),(0.26,1.11),(0.37,1.08),(0.26,1.03),(0.43,1.0),(0.43,0.78),(0.26,0.68),(0.1,0.55),(0.0,0.3),(-0.03,-0.02),(0.0,-0.34),(0.1,-0.53),(0.26,-0.72),(0.43,-0.78),(0.5,-0.97),(0.7,-1.0),(1.03,-1.04),(0.57,-1.11),(0.24,-1.17),(0.1,-1.36),(-0.09,-1.48),(-0.95,-1.61),(-1.87,-1.68),(-0.95,-1.74),(-0.03,-1.82),(0.9,-1.87),(1.42,-1.99),(1.68,-2.18),(2.08,-2.38),(2.54,-2.44),(2.41,-2.48),(3.07,-2.5),(1.82,-2.54),(0.9,-2.6),(0.1,-2.66),(-0.68,-2.76),(-0.82,-2.89),(-0.42,-2.95),(-0.03,-3.0)]
SIG_C_BLUE = [(1.53,0.84),(1.16,0.78),(1.03,0.68),(0.63,0.62),(0.24,0.49),(0.04,0.3),(0.0,-0.02),(-0.03,-0.97),(0.04,-1.29),(0.24,-1.48),(0.63,-1.64),(1.03,-1.77),(0.76,-1.93),(-0.03,-1.99),(-0.68,-2.09),(-1.34,-2.15),(-1.41,-2.18),(-0.95,-2.25),(-0.03,-2.31),(0.37,-2.44),(0.63,-2.63),(0.9,-2.82),(1.03,-2.98)]
SIG_C_GREEN = [(0.04,1.48),(0.0,0.94),(-0.03,-0.97),(0.1,-1.13),(0.3,-1.2),(0.04,-1.26),(-0.05,-1.32),(0.0,-1.42),(0.04,-2.25),(0.17,-2.38),(0.37,-2.5),(0.76,-2.57),(1.16,-2.6),(0.24,-2.69),(0.1,-2.82),(0.13,-3.0)]

SIG_D_RED = [(2.03,1.17),(2.29,1.12),(2.49,1.08),(2.36,0.98),(2.16,0.92),(1.83,0.89),(0.66,0.82),(0.26,0.73),(0.07,0.54),(0.0,0.35),(0.0,-0.03),(0.2,-0.16),(0.39,-0.32),(0.59,-0.51),(0.79,-0.57),(1.31,-0.7),(1.97,-0.76),(2.16,-0.79),(1.7,-0.85),(1.05,-0.95),(0.52,-1.08),(0.0,-1.17),(-0.66,-1.3),(-1.44,-1.39),(-1.77,-1.42),(-1.7,-1.49),(-0.66,-1.52),(0.13,-1.58),(0.92,-1.68),(1.44,-1.8),(1.7,-1.9),(2.23,-1.99),(2.88,-2.12),(3.54,-2.18),(4.59,-2.25),(3.01,-2.28),(1.7,-2.31),(0.92,-2.41),(0.13,-2.47),(-0.66,-2.56),(-1.18,-2.66),(-0.66,-2.69),(-0.13,-2.75),(0.13,-2.85),(0.52,-2.99)]
SIG_D_BLUE = [(1.51,1.46),(1.11,1.36),(0.92,1.23),(0.59,1.01),(0.66,0.92),(1.11,0.87),(0.66,0.82),(0.39,0.73),(0.13,0.6),(0.07,0.35),(0.0,0.03),(0.0,-0.28),(0.07,-0.41),(0.26,-0.54),(0.33,-0.76),(0.79,-0.76),(1.05,-0.76),(0.59,-0.85),(0.92,-0.98),(1.31,-1.08),(0.66,-1.11),(0.0,-1.2),(-0.66,-1.3),(-1.38,-1.42),(-0.66,-1.52),(-0.13,-1.58),(0.39,-1.71),(0.66,-1.87),(1.05,-2.12),(1.57,-2.37),(2.23,-2.56),(3.01,-2.63),(3.34,-2.66),(2.49,-2.72),(2.42,-2.82),(2.29,-2.85),(1.44,-2.91),(0.52,-2.99)]
SIG_D_GREEN = [(0.66,1.46),(0.26,1.39),(0.07,1.3),(0.03,0.66),(0.03,-0.6),(0.13,-0.79),(0.39,-0.85),(0.79,-0.89),(1.18,-0.92),(1.51,-0.95),(0.92,-1.01),(0.59,-1.04),(0.26,-1.11),(0.13,-1.23),(0.1,-1.93),(0.13,-2.12),(0.46,-2.22),(0.39,-2.31),(0.66,-2.37),(0.85,-2.44),(0.59,-2.5),(0.26,-2.56),(0.29,-2.63),(0.07,-2.69),(-0.66,-2.75),(-1.57,-2.78),(-0.66,-2.82),(-0.26,-2.88),(-0.07,-2.99)]

SIG_XTICKS = [-2.0, 0.0, 2.0, 4.0, 6.0]
SIG_YTICKS = [-3.0, -2.0, -1.0, 0.0, 1.0]

PANELS = [
    ('GeS', GES_SOC, GES_NOSOC, GREEN),
    ('GeSe', GESE_SOC, GESE_NOSOC, BLUE),
    ('GeTe', GETE_SOC, GETE_NOSOC, RED),
    ('SnS', SNS_SOC, SNS_NOSOC, GREEN),
    ('SnSe', SNSE_SOC, SNSE_NOSOC, BLUE),
    ('SnTe', SNTE_SOC, SNTE_NOSOC, RED),
]

# ---------------- figure ----------------
W, H = 1327, 800
fig = plt.figure(figsize=(W / 100, H / 100), dpi=100)

def box(x0, y0, x1, y1):
    return [x0 / W, 1 - y1 / H, (x1 - x0) / W, (y1 - y0) / H]

COLS = [(128, 401), (443, 715), (755, 1027)]
ROWS = [(59, 371), (452, 764)]
TICKFS = 12.5

def band_axes(rect, title, soc, nosoc, color, first_col, bottom_row, title_y):
    ax = fig.add_axes(rect)
    ax.set_xlim(0, 4)
    ax.set_ylim(-3, 3)
    for kv in KPOS[1:-1]:
        ax.axvline(kv, color='#222222', lw=0.7, zorder=1)
    ax.axhline(0, color='#222222', lw=0.8, zorder=1)
    for b in nosoc:
        ax.plot([p[0] for p in b], [p[1] for p in b], color='black', lw=0.8,
                zorder=2, solid_joinstyle='round', solid_capstyle='round')
    for b in soc:
        ax.plot([p[0] for p in b], [p[1] for p in b], color=color, lw=1.2,
                zorder=3, solid_joinstyle='round', solid_capstyle='round')
    ax.set_yticks(ETICKS)
    if first_col:
        ax.set_yticklabels(['%.1f' % v for v in ETICKS], fontsize=TICKFS)
    else:
        ax.set_yticklabels([])
    ax.tick_params(axis='y', direction='out', length=7, width=1.2, pad=3)
    ax.set_xticks(KPOS)
    if bottom_row:
        ax.set_xticklabels(KLABELS, fontsize=13.5)
        ax.tick_params(axis='x', length=0, pad=12)
    else:
        ax.set_xticklabels([])
        ax.tick_params(axis='x', length=0)
    for s in ax.spines.values():
        s.set_linewidth(1.6)
    fig.text((rect[0] + rect[2] / 2), title_y, title, ha='center', va='center', fontsize=15.5)
    return ax

for i, (name, soc, nosoc, col) in enumerate(PANELS):
    r = i // 3
    c = i % 3
    x0, x1 = COLS[c]
    y0, y1 = ROWS[r]
    ty = 1 - (24 if r == 0 else 420) / H
    band_axes(box(x0, y0, x1, y1), name, soc, nosoc, col, c == 0, r == 1, ty)

fig.text(22 / W, 1 - 215 / H, 'Energy (eV)', rotation=90, ha='center', va='center', fontsize=16)
fig.text(22 / W, 1 - 608 / H, 'Energy (eV)', rotation=90, ha='center', va='center', fontsize=16)

def sigma_axes(rect, red, blue, green):
    ax = fig.add_axes(rect)
    ax.set_xlim(-2, 6)
    ax.set_ylim(-3, 1.5)
    ax.axhline(0, color='black', lw=1.2, zorder=1)
    ax.axvline(0, color='black', lw=0.9, zorder=1)
    for data, cc in ((green, GREEN), (blue, BLUE), (red, RED)):
        ax.plot([p[0] for p in data], [p[1] for p in data], color=cc, lw=1.4,
                zorder=3, solid_joinstyle='round')
    ax.xaxis.tick_top()
    ax.set_xticks(SIG_XTICKS)
    ax.set_xticklabels(['%.1f' % v for v in SIG_XTICKS], rotation=-90, fontsize=TICKFS)
    ax.xaxis.set_minor_locator(MultipleLocator(1.0))
    ax.set_yticks(SIG_YTICKS)
    ax.set_yticklabels(['%.1f' % v for v in SIG_YTICKS], fontsize=TICKFS)
    ax.yaxis.set_minor_locator(MultipleLocator(0.5))
    ax.tick_params(axis='both', which='major', direction='out', length=7, width=1.2, pad=3)
    ax.tick_params(axis='both', which='minor', direction='out', length=7, width=1.2)
    ax.tick_params(axis='x', which='both', length=5)
    for s in ax.spines.values():
        s.set_linewidth(1.6)
    return ax

sigma_axes(box(1107, 137, 1309, 372), SIG_C_RED, SIG_C_BLUE, SIG_C_GREEN)
sigma_axes(box(1107, 531, 1309, 766), SIG_D_RED, SIG_D_BLUE, SIG_D_GREEN)

SIGLABEL = 'σ$^{\\ z}_{\\ xy}$ (10$^{2}$ Ω$^{-1}$cm$^{-1}$)'
fig.text(1212 / W, 1 - 67 / H, SIGLABEL, ha='center', va='center', fontsize=16.5)
fig.text(1212 / W, 1 - 452 / H, SIGLABEL, ha='center', va='center', fontsize=16.5)

for lab, x, y in (('a', 22, 18), ('b', 22, 425), ('c', 1087, 17), ('d', 1085, 428)):
    fig.text(x / W, 1 - y / H, lab, ha='center', va='center', fontsize=18, fontweight='bold')

fig.savefig('out.png', dpi=100)
